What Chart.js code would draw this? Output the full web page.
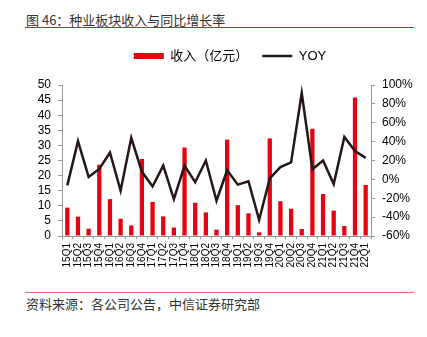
<!DOCTYPE html>
<html>
<head>
<meta charset="utf-8">
<script src="https://cdn.jsdelivr.net/npm/chart.js@4/dist/chart.umd.min.js"></script>
<style>
  body { margin: 0; background: #fff; width: 427px; height: 337px; position: relative; overflow: hidden;
         font-family: "Liberation Sans", "Noto Sans CJK SC", sans-serif; }
  #title { position: absolute; left: 26px; top: 10px; font-size: 13px; line-height: 20px; color: #333;
           font-family: "Noto Sans CJK SC", sans-serif; white-space: nowrap; }
  .rule { position: absolute; left: 25px; width: 389px; height: 1px; }
  #ruleTop { top: 27px; background: #b8282e; }
  #ruleBottom { top: 292px; background: #e36a6a; }
  #wrap { position: absolute; left: 33px; top: 0; width: 394px; height: 290px; }
  #source { position: absolute; left: 26px; top: 294px; font-size: 13px; line-height: 20px; color: #333;
            font-family: "Noto Sans CJK SC", sans-serif; white-space: nowrap; }
</style>
</head>
<body>
<div id="title">图 46：种业板块收入与同比增长率</div>
<div class="rule" id="ruleTop"></div>
<div id="wrap"><canvas id="seedChart"></canvas></div>
<div class="rule" id="ruleBottom"></div>
<div id="source">资料来源：各公司公告，中信证券研究部</div>

<script>
const quarters = [
  '15Q1', '15Q2', '15Q3', '15Q4', '16Q1', '16Q2', '16Q3', '16Q4',
  '17Q1', '17Q2', '17Q3', '17Q4', '18Q1', '18Q2', '18Q3', '18Q4',
  '19Q1', '19Q2', '19Q3', '19Q4', '20Q1', '20Q2', '20Q3', '20Q4',
  '21Q1', '21Q2', '21Q3', '21Q4', '22Q1'
];

// 收入（亿元）
const revenue = [
  9.4, 6.4, 2.4, 23.6, 12.2, 5.7, 3.5, 25.5,
  11.3, 6.5, 2.8, 29.3, 11.0, 7.8, 2.1, 31.9,
  10.2, 7.5, 1.2, 32.3, 11.5, 9.0, 2.3, 35.5,
  13.9, 8.4, 3.3, 45.9, 16.9
];

// YOY (%)
const yoy = [
  -6.4, 40.5, 2.6, 11.0, 28.5, -12.0, 44.0, 8.0,
  -7.5, 14.6, -21.0, 14.6, -3.0, 20.0, -22.6, 9.7,
  -5.6, -2.0, -43.0, 1.0, 13.0, 18.0, 91.5, 10.7,
  20.0, -5.0, 45.0, 30.0, 22.8
];

const leftTicks = [0, 5, 10, 15, 20, 25, 30, 35, 40, 45, 50];
const rightTicks = [-60, -40, -20, 0, 20, 40, 60, 80, 100];

const axisGray = '#999999';
const tickFont = { family: '"Liberation Sans", Arial, sans-serif', size: 12 };

const ctx = document.getElementById('seedChart').getContext('2d');
new Chart(ctx, {
  data: {
    labels: quarters,
    datasets: [
      {
        type: 'bar',
        label: '收入（亿元）',
        data: revenue,
        yAxisID: 'y',
        backgroundColor: '#e60012',
        borderWidth: 0,
        pointStyle: 'rect',
        barPercentage: 0.8,
        categoryPercentage: 0.5,
        order: 1,
      },
      {
        type: 'line',
        label: 'YOY',
        data: yoy,
        yAxisID: 'y1',
        borderColor: '#231815',
        backgroundColor: '#231815',
        borderWidth: 2.5,
        pointRadius: 0,
        pointStyle: 'line',
        tension: 0,
        order: 0,
      }
    ]
  },
  options: {
    responsive: true,
    maintainAspectRatio: false,
    animation: false,
    layout: { padding: { top: 35.5, left: 0, right: 0, bottom: 0 } },
    plugins: {
      tooltip: { enabled: false },
      legend: {
        position: 'top',
        labels: {
          usePointStyle: true,
          pointStyleWidth: 30,
          boxHeight: 6,
          padding: 14,
          color: '#000',
          font: { family: '"Liberation Sans", "Noto Sans CJK SC", sans-serif', size: 13 },
          sort: (a, b) => a.datasetIndex - b.datasetIndex,
        }
      },
      // empty line between legend and plot
      subtitle: {
        display: true,
        text: '',
        position: 'top',
        weight: 500,
        padding: { top: 2.5, bottom: 0 },
        font: { size: 10, lineHeight: 1 },
      }
    },
    scales: {
      x: {
        offset: true,
        grid: { offset: true, drawOnChartArea: false, tickLength: 3, color: axisGray },
        border: { color: axisGray },
        ticks: {
          autoSkip: false,
          minRotation: 90,
          maxRotation: 90,
          padding: 4,
          color: '#000',
          font: { family: '"Liberation Sans", Arial, sans-serif', size: 10 },
        },
        afterFit: (scale) => { scale.height = 54; },
      },
      y: {
        position: 'left',
        min: leftTicks[0],
        max: leftTicks[leftTicks.length - 1],
        afterBuildTicks: (scale) => { scale.ticks = leftTicks.map(v => ({ value: v })); },
        grid: { drawOnChartArea: false, tickLength: 4, color: axisGray },
        border: { color: axisGray },
        ticks: { autoSkip: false, padding: 7, color: '#000', font: tickFont },
        afterFit: (scale) => { scale.width = 29; },
      },
      y1: {
        position: 'right',
        min: rightTicks[0],
        max: rightTicks[rightTicks.length - 1],
        afterBuildTicks: (scale) => { scale.ticks = rightTicks.map(v => ({ value: v })); },
        grid: { drawOnChartArea: false, tickLength: 4, color: axisGray },
        border: { color: axisGray },
        ticks: { autoSkip: false, padding: 7, color: '#000', font: tickFont, callback: (v) => v + '%' },
        afterFit: (scale) => { scale.width = 56; },
      }
    }
  }
});
</script>
</body>
</html>
